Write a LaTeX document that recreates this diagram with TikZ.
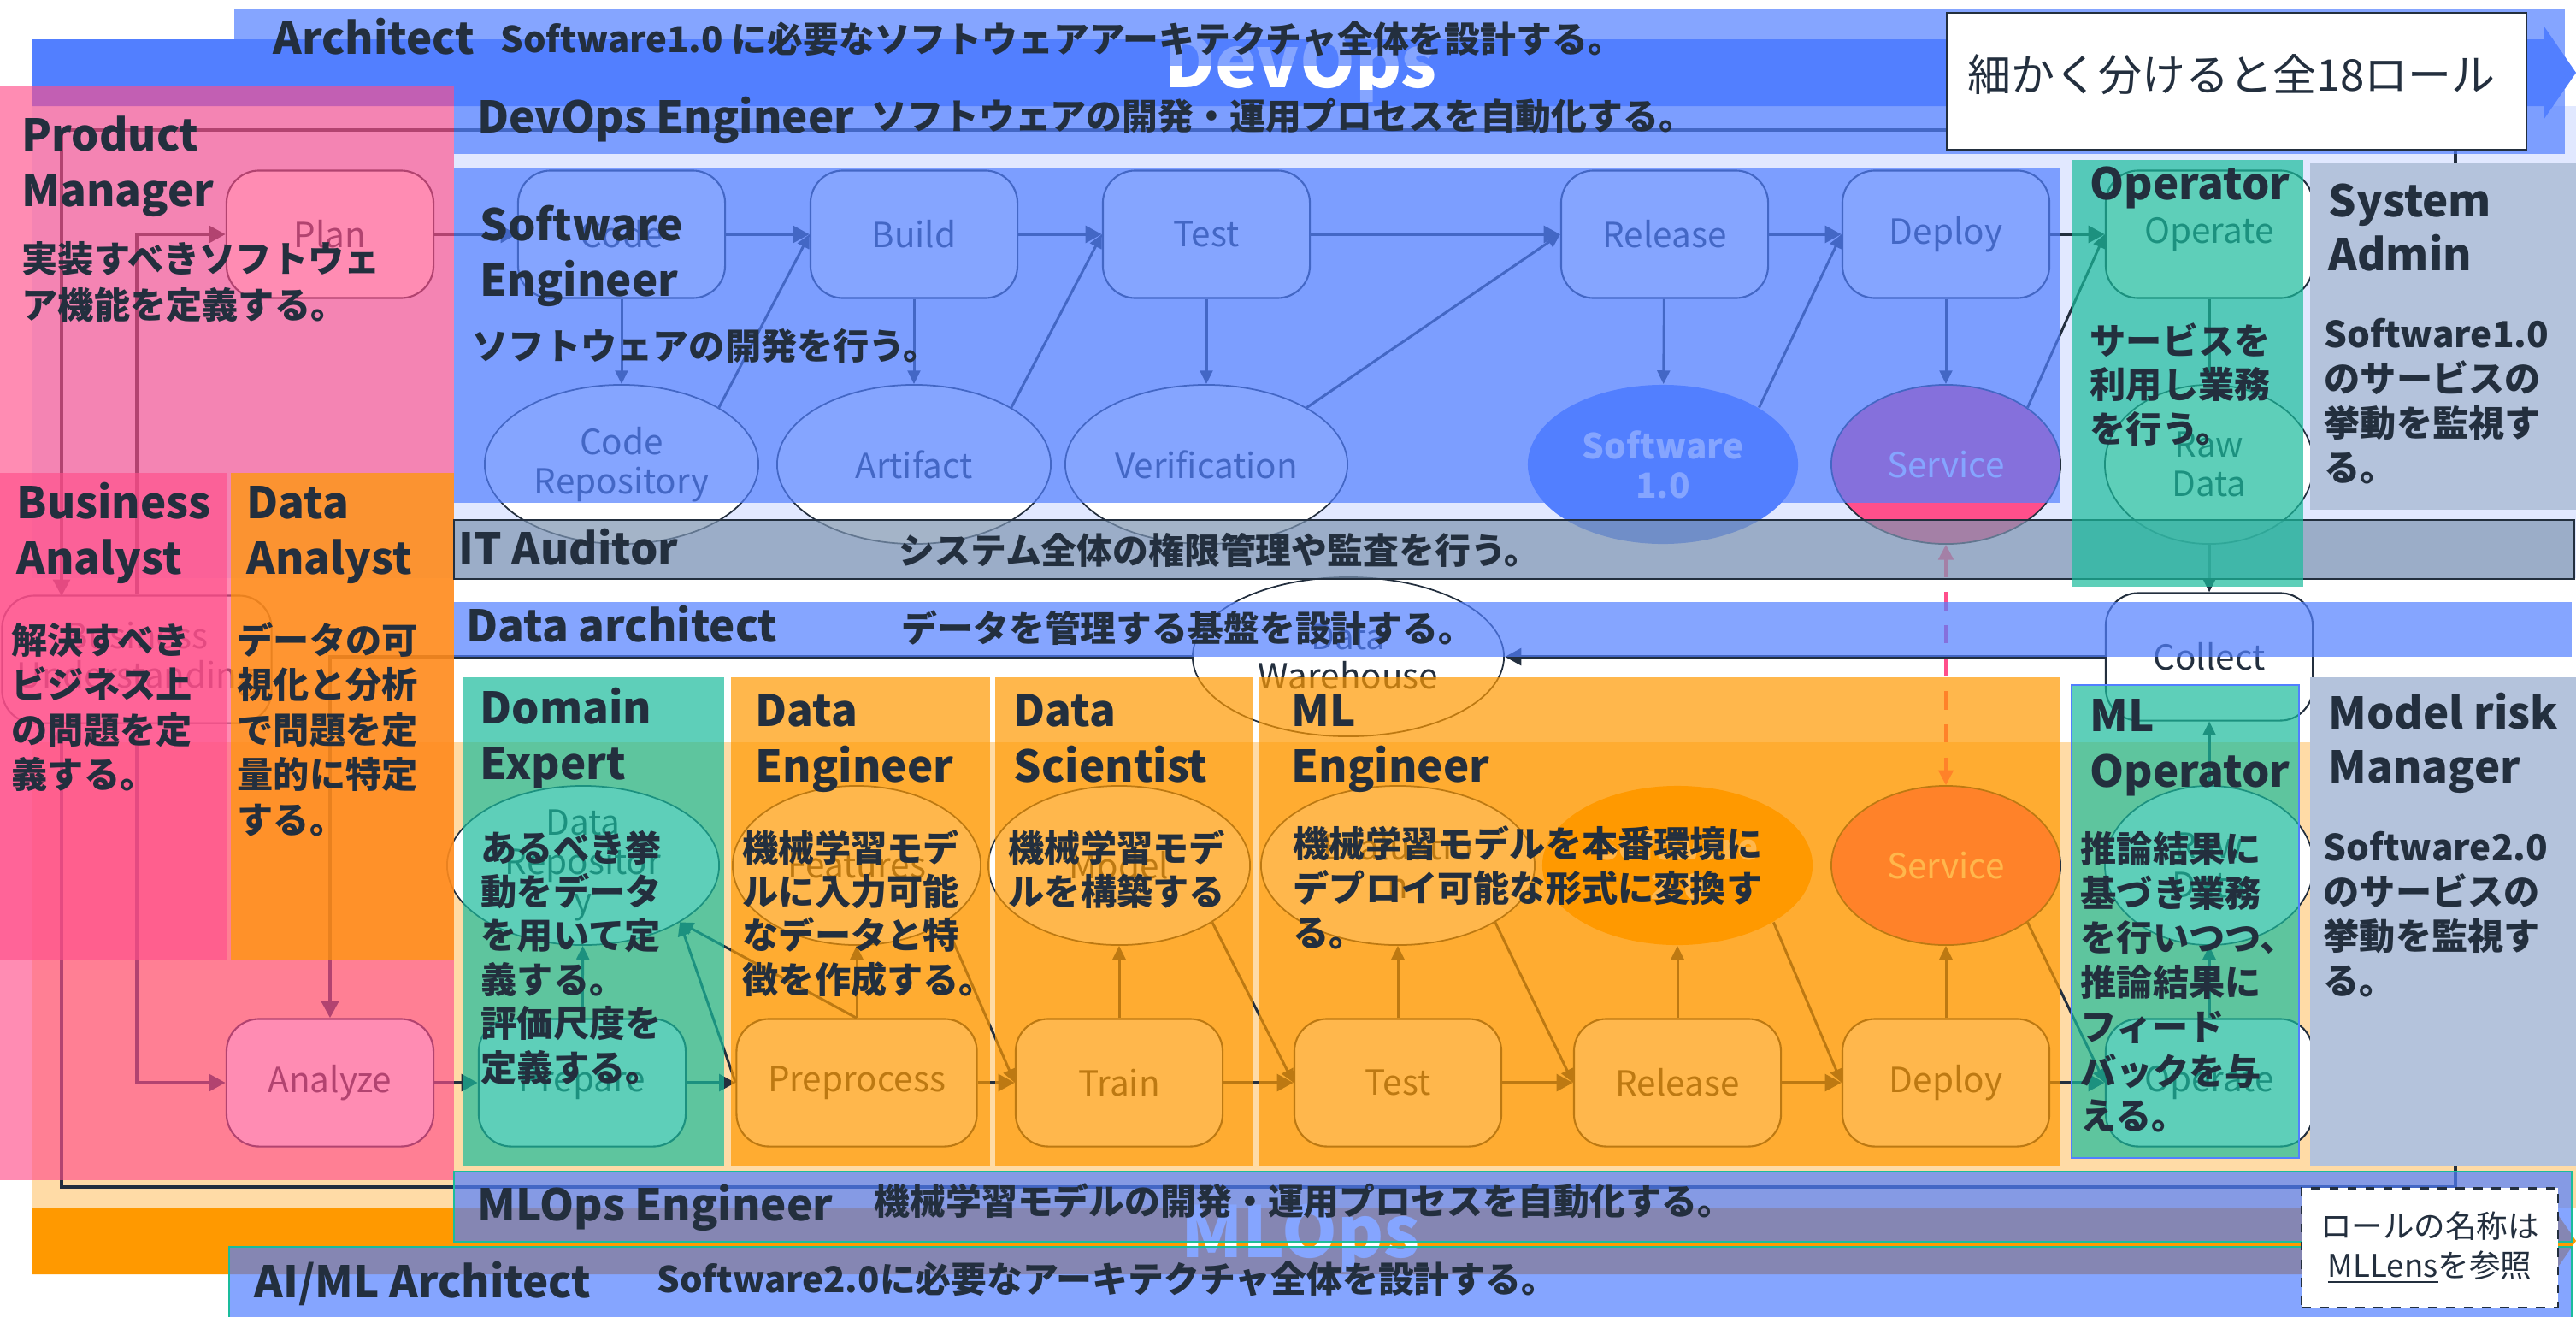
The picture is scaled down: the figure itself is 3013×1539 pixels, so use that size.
\documentclass[tikz,border=0pt]{standalone}
\usepackage{fontspec}
\setmainfont{Noto Sans CJK JP}
\usetikzlibrary{shapes.geometric,arrows.meta}
\definecolor{ink}{HTML}{232F3E}
\definecolor{awsblue}{HTML}{527FFF}
\definecolor{awsorange}{HTML}{FF9900}
\definecolor{awspink}{HTML}{FF4F8B}
\definecolor{tealc}{HTML}{1ABC9C}
\definecolor{paleblue}{HTML}{E1E8FF}
\definecolor{paleorange}{HTML}{FFDBA6}
\definecolor{auditc}{HTML}{7E95B2}
\definecolor{adminc}{HTML}{B4C3DC}
\tikzset{
 proc/.style={draw=ink, line width=0.6pt, fill=white, rounded corners=0.38cm, minimum width=2.42cm, minimum height=1.49cm, inner sep=0pt, text=ink, align=center, font=\fontsize{11.5}{13}\selectfont},
 ell/.style={ellipse, draw=ink, line width=0.5pt, fill=white, inner sep=0pt, minimum height=1.86cm, text=ink, align=center, font=\fontsize{11.5}{13}\selectfont},
 flow/.style={draw=ink, line width=1.4pt, -{Triangle[length=5.5pt,width=5.5pt]}},
 conn/.style={draw=ink, line width=0.85pt, -{Triangle[length=4.5pt,width=4.2pt]}},
 loopline/.style={draw=ink, line width=1.3pt, -{Triangle[length=5.5pt,width=5.5pt]}},
 dashlink/.style={draw=awspink, line width=0.9pt, dash pattern=on 6pt off 5pt, {Triangle[length=5pt,width=5pt]}-{Triangle[length=5pt,width=5pt]}},
 roletitle/.style={anchor=base west, inner sep=0pt, text=ink, font=\fontsize{14.5}{16}\selectfont\bfseries},
 roledesc/.style={anchor=base west, inner sep=0pt, text=ink, font=\fontsize{12}{14}\selectfont\bfseries},
 banddesc/.style={anchor=base west, inner sep=0pt, text=ink, font=\fontsize{11.9}{14}\selectfont\bfseries},
 bigword/.style={anchor=base, inner sep=0pt, text=white, font=\fontsize{23.5}{26}\selectfont\bfseries},
 blueband/.style={fill=awsblue, fill opacity=0.7},
 pinkrole/.style={fill=awspink, fill opacity=0.65},
 orangerole/.style={fill=awsorange, fill opacity=0.7},
 tealrole/.style={fill=tealc, fill opacity=0.7},
}
\newcommand\txtblock[6]{\foreach \myline [count=\i from 0] in {#6}{\node[#2] (#1-\i) at (#3,{#4+#5*\i}) {\myline};}}
\begin{document}
\begin{tikzpicture}[x=0.01cm, y=-0.01cm]
\useasboundingbox (0,0) rectangle (3013,1539);
\fill[white] (0,0) rectangle (3013,1539);
% background panels
\fill[paleblue] (37,124) rectangle (3013,676);
\fill[paleorange] (37,868) rectangle (3013,1412);
% big arrows
\fill[awsblue] (37,46) -- (2975,46) -- (2975,30) -- (3013,85) -- (2975,140) -- (2975,124) -- (37,124) -- cycle;
\fill[awsorange] (37,1412) -- (2975,1412) -- (2975,1396) -- (3013,1451) -- (2975,1506) -- (2975,1490) -- (37,1490) -- cycle;
\node[bigword] (devopsword) at (1521,102) {DevOps};
\node[bigword] (mlopsword) at (1521,1470) {MLOps};

% DevOps row
\node[proc] (plan) at (386,274) {Plan};
\node[proc] (code) at (727,274) {Code};
\node[proc] (build) at (1069,274) {Build};
\node[proc] (test) at (1411,274) {Test};
\node[proc] (release) at (1947,274) {Release};
\node[proc] (deploy) at (2276,274) {Deploy};
\node[proc] (operate) at (2584,274) {Operate};
\node[ell, minimum width=3.2cm] (coderepo) at (727,543) {Code\\Repository};
\node[ell, minimum width=3.2cm] (artifact) at (1069,543) {Artifact};
\node[ell, minimum width=3.3cm] (verif) at (1411,543) {Verification};
\node[ell, minimum width=3.16cm, draw=none, fill=awsblue, text=white, font=\fontsize{11.5}{13}\selectfont\bfseries] (sw1) at (1945,543) {Software\\1.0};
\node[ell, minimum width=2.68cm, fill=awspink, text=white] (svc1) at (2276,543) {Service};
\node[ell, minimum width=2.44cm] (raw1) at (2584,543) {Raw\\Data};

% middle
\node[proc, minimum width=3.15cm] (bizund) at (160,771) {Business\\Understanding};
\node[proc] (collect) at (2584,768) {Collect};
\node[ell, minimum width=3.64cm] (dw) at (1577,768) {Data\\Warehouse};

% MLOps row
\node[proc] (analyze) at (386,1266) {Analyze};
\node[proc] (prepare) at (681,1266) {Prepare};
\node[proc, minimum width=2.81cm] (preprocess) at (1002,1266) {Preprocess};
\node[proc] (train) at (1309,1266) {Train};
\node[proc] (test2) at (1635,1266) {Test};
\node[proc] (release2) at (1962,1266) {Release};
\node[proc] (deploy2) at (2276,1266) {Deploy};
\node[proc] (operate2) at (2584,1266) {Operate};
\node[ell, minimum width=3.18cm] (datarepo) at (682,1012) {Data\\Repositor\\y};
\node[ell, minimum width=2.9cm] (features) at (1002,1012) {Features};
\node[ell, minimum width=3.06cm] (model) at (1309,1012) {Model};
\node[ell, minimum width=3.2cm] (evalu) at (1635,1012) {Evaluatio\\n};
\node[ell, minimum width=3.16cm, draw=none, fill=awsorange, text=white, font=\fontsize{11.5}{13}\selectfont\bfseries] (sw2) at (1962,1012) {Software\\2.0};
\node[ell, minimum width=2.68cm, fill=awspink, text=white] (svc2) at (2276,1012) {Service};
\node[ell, minimum width=2.44cm] (raw2) at (2584,1012) {Raw\\Data};

% connectors DevOps
\draw[flow] (plan) -- (code);
\draw[flow] (code) -- (build);
\draw[flow] (build) -- (test);
\draw[flow] (test) -- (release);
\draw[flow] (release) -- (deploy);
\draw[flow] (deploy) -- (operate);
\draw[conn] (code) -- (coderepo);
\draw[conn] (build) -- (artifact);
\draw[conn] (test) -- (verif);
\draw[conn] (release) -- (sw1);
\draw[conn] (deploy) -- (svc1);
\draw[conn] (operate) -- (raw1);
\draw[conn] (coderepo.north east) -- (build.west);
\draw[conn] (artifact.north east) -- (test.west);
\draw[conn] (verif.north east) -- (release.west);
\draw[conn] (sw1.north east) -- (deploy.west);
\draw[conn] (svc1.north east) -- (operate.west);
\draw[conn] (raw1) -- (collect);
\draw[flow] (collect) -- (dw);
\draw[flow] (dw.west) -| (analyze.north);
\draw[dashlink] (svc1) -- (svc2);
% connectors MLOps
\draw[flow] (analyze) -- (prepare);
\draw[flow] (prepare) -- (preprocess);
\draw[flow] (preprocess) -- (train);
\draw[flow] (train) -- (test2);
\draw[flow] (test2) -- (release2);
\draw[flow] (release2) -- (deploy2);
\draw[flow] (deploy2) -- (operate2);
\draw[conn] (prepare) -- (datarepo);
\draw[conn] (preprocess) -- (features);
\draw[conn] (train) -- (model);
\draw[conn] (test2) -- (evalu);
\draw[conn] (release2) -- (sw2);
\draw[conn] (deploy2) -- (svc2);
\draw[conn] (operate2) -- (raw2);
\draw[conn] (raw2) -- (collect);
\draw[conn] (preprocess.west) -- (datarepo.south east);
\draw[conn] (preprocess.north) -- (datarepo.south east);
\draw[conn] (features.south east) -- (train.west);
\draw[conn] (model.south east) -- (test2.west);
\draw[conn] (evalu.south east) -- (release2.west);
\draw[conn] (sw2.south east) -- (deploy2.west);
\draw[conn] (svc2.south east) -- (operate2.west);
% business understanding links and feedback loops
\draw[flow] (bizund.north) |- (plan.west);
\draw[flow] (bizund.south) |- (analyze.west);
\coordinate (loopTR) at (2872,152);
\coordinate (loopTL) at (72,152);
\coordinate (bzTop) at (72,697);
\coordinate (loopBR) at (2872,1388);
\coordinate (loopBL) at (72,1388);
\coordinate (bzBot) at (72,846);
\draw[loopline] (operate.east) -| (loopTR) -- (loopTL) -- (bzTop);
\draw[loopline] (operate2.east) -| (loopBR) -- (loopBL) -- (bzBot);

% role overlays
\fill[blueband] (274,10) rectangle (3000,77);
\fill[blueband] (531,105) rectangle (3000,180);
\fill[pinkrole] (0,100) rectangle (531,1380);
\fill[pinkrole] (0,553) rectangle (265,1123);
\fill[fill=awsorange, fill opacity=0.72] (270,553) rectangle (531,1123);
\fill[blueband] (531,197) rectangle (2410,588);
\filldraw[fill=auditc, fill opacity=0.7, draw=ink, line width=0.6pt] (531,608) rectangle (3011,677);
\fill[tealrole] (2423,187) rectangle (2694,686);
\fill[adminc] (2702,191) rectangle (3013,596);
\fill[blueband] (531,704) rectangle (3008,768);
\fill[tealrole] (542,792) rectangle (847,1363);
\fill[orangerole] (855,792) rectangle (1158,1363);
\fill[orangerole] (1164,792) rectangle (1466,1363);
\fill[orangerole] (1473,792) rectangle (2410,1363);
\filldraw[tealrole, draw=awsblue, line width=0.4pt] (2423,801) rectangle (2689,1354);
\fill[adminc] (2702,792) rectangle (3013,1363);
\filldraw[blueband, draw=tealc, line width=0.6pt] (531,1370) rectangle (3008,1452);
\filldraw[blueband, draw=tealc, line width=0.6pt] (268,1458) rectangle (3008,1545);

% band texts
\node[roletitle] (archT) at (319,63) {Architect};
\node[banddesc] (archD) at (585,61) {Software1.0 に必要なソフトウェアアーキテクチャ全体を設計する。};
\node[roletitle] (doeT) at (558,155) {DevOps Engineer};
\node[banddesc] (doeD) at (1019,151) {ソフトウェアの開発・運用プロセスを自動化する。};
\node[roletitle] (itaT) at (536,660) {IT Auditor};
\node[banddesc] (itaD) at (1051,659) {システム全体の権限管理や監査を行う。};
\node[roletitle] (darT) at (545,750) {Data architect};
\node[banddesc] (darD) at (1054,750) {データを管理する基盤を設計する。};
\node[roletitle] (mloeT) at (558,1427) {MLOps Engineer};
\node[banddesc] (mloeD) at (1022,1420) {機械学習モデルの開発・運用プロセスを自動化する。};
\node[roletitle] (aimlT) at (297,1517) {AI/ML Architect};
\node[banddesc] (aimlD) at (768,1511) {Software2.0に必要なアーキテクチャ全体を設計する。};

% role titles
\txtblock{pmT}{roletitle}{25}{176}{65}{Product,Manager}
\txtblock{seT}{roletitle}{561}{281}{65}{Software,Engineer}
\txtblock{baT}{roletitle}{19}{606}{65}{Business,Analyst}
\txtblock{daT}{roletitle}{288}{606}{65}{Data,Analyst}
\txtblock{opT}{roletitle}{2444}{233}{65}{Operator}
\txtblock{saT}{roletitle}{2723}{253}{63}{System,Admin}
\txtblock{deT}{roletitle}{561}{846}{65}{Domain,Expert}
\txtblock{denT}{roletitle}{883}{849}{65}{Data,Engineer}
\txtblock{dsT}{roletitle}{1185}{849}{65}{Data,Scientist}
\txtblock{mleT}{roletitle}{1510}{849}{65}{ML,Engineer}
\txtblock{mloT}{roletitle}{2444}{855}{65}{ML,Operator}
\txtblock{mrmT}{roletitle}{2723}{852}{63}{Model risk,Manager}

% role descriptions
\txtblock{pmD}{roledesc}{25}{318}{54}{実装すべきソフトウェ,ア機能を定義する。}
\txtblock{seD}{roledesc}{552}{420}{52}{ソフトウェアの開発を行う。}
\txtblock{baD}{roledesc}{13}{764}{52.6}{解決すべき,ビジネス上,の問題を定,義する。}
\txtblock{daD}{roledesc}{277}{764}{52.6}{データの可,視化と分析,で問題を定,量的に特定,する。}
\txtblock{opD}{roledesc}{2444}{414}{51.5}{サービスを,利用し業務,を行う。}
\txtblock{saD}{roledesc}{2718}{406}{52}{Software1.0,のサービスの,挙動を監視す,る。}
\txtblock{deD}{roledesc}{562}{1007}{51.4}{あるべき挙,動をデータ,を用いて定,義する。,評価尺度を,定義する。}
\txtblock{denD}{roledesc}{868}{1007}{51.4}{機械学習モデ,ルに入力可能,なデータと特,徴を作成する。}
\txtblock{dsD}{roledesc}{1179}{1007}{51.4}{機械学習モデ,ルを構築する}
\txtblock{mleD}{roledesc}{1512}{1002}{52}{機械学習モデルを本番環境に,デプロイ可能な形式に変換す,る。}
\txtblock{mloD}{roledesc}{2433}{1008}{52}{推論結果に,基づき業務,を行いつつ、,推論結果に,フィード,バックを与,える。}
\txtblock{mrmD}{roledesc}{2717}{1006}{52}{Software2.0,のサービスの,挙動を監視す,る。}

% note boxes
\node[draw=ink, line width=0.7pt, fill=white, minimum width=6.78cm, minimum height=1.6cm, inner sep=0pt] (rolesbox) at (2616,95) {};
\node[anchor=base, inner sep=0pt, text=ink, font=\fontsize{14.5}{16}\selectfont] (rolestxt) at (2610,106) {細かく分けると全18ロール};
\node[draw=ink, line width=0.6pt, dashed, fill=white, minimum width=3.0cm, minimum height=1.39cm, inner sep=0pt, align=center, text=ink, font=\fontsize{10.4}{13}\selectfont] (lens) at (2842,1459) {ロールの名称は\\\underline{MLLens}を参照};
\end{tikzpicture}
\end{document}
